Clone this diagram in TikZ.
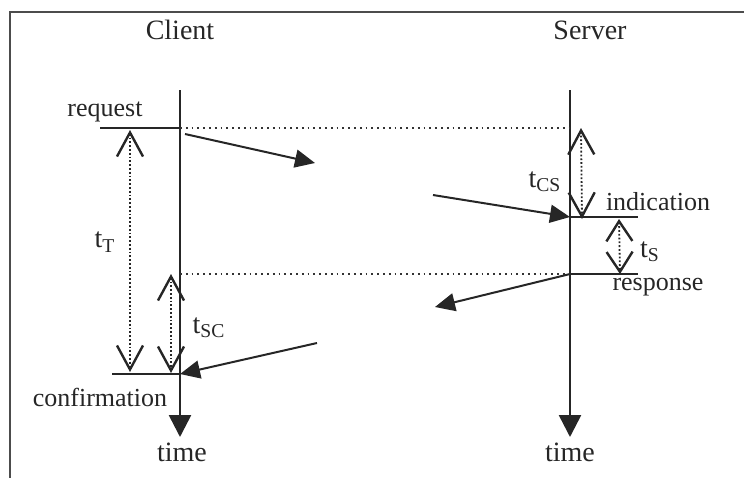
\documentclass[tikz,border=0pt]{standalone}
\usepackage{fontspec}
\setmainfont{Liberation Serif}
\usetikzlibrary{arrows.meta, positioning}
\tikzset{
        x=0.5pt, y=-0.5pt, % one unit is one pixel of the sketch, y runs down
        timeaxis/.style={draw=black!85, line width=1.3pt, -{Triangle[length=11pt,width=11pt]}}, % time line of a party
        msg/.style={draw=black!85, line width=1pt, -{Triangle[length=10pt,width=9pt]}}, % message on the way
        eventline/.style={draw=black!85, line width=1pt}, % level of a primitive
        sync/.style={draw=black!80, line width=0.9pt, dotted}, % same instant
        timer/.style={draw=black!85, line width=0.9pt, densely dotted,
            {Straight Barb[length=#1,width=13pt,line width=1.2pt]}-{Straight Barb[length=#1,width=13pt,line width=1.2pt]}}, % duration
        timer/.default=12pt,
    }
\tikzstyle{head}=[font=\fontsize{14}{16}\selectfont, text=black!85, inner sep=0pt]
\tikzstyle{lbl}=[font=\fontsize{13}{15}\selectfont, text=black!85, inner sep=0pt]

\begin{document}
\begin{tikzpicture}
    \useasboundingbox (0,0) rectangle (744,478);
    \draw[black!70, line width=0.8pt] (744,12) -- (10,12) -- (10,478);

    % parties
    \node[head] (client) at (180,30) {Client};
    \node[head] (server) at (590,30) {Server};
    \node[head] (ctime) at (182,452) {time};
    \node[head] (stime) at (570,452) {time};
    \coordinate (c0) at (180,90);
    \coordinate (c1) at (180,437);
    \coordinate (s0) at (570,90);
    \coordinate (s1) at (570,437);
    \draw[timeaxis] (c0) -- (c1);
    \draw[timeaxis] (s0) -- (s1);

    % events
    \coordinate (req) at (180,128);
    \coordinate (reqL) at (100,128);
    \coordinate (reqS) at (570,128);
    \coordinate (ind) at (570,217);
    \coordinate (indR) at (638,217);
    \coordinate (resp) at (570,274);
    \coordinate (respR) at (638,274);
    \coordinate (respC) at (180,274);
    \coordinate (cnf) at (180,374);
    \coordinate (cnfL) at (112,374);
    \draw[eventline] (reqL) -- (req);
    \draw[eventline] (ind) -- (indR);
    \draw[eventline] (resp) -- (respR);
    \draw[eventline] (cnfL) -- (cnf);
    \draw[sync] (req) -- (reqS);
    \draw[sync] (respC) -- (resp);

    \node[lbl] (request) at (105,112) {request};
    \node[lbl] (indication) at (658,202) {indication};
    \node[lbl] (response) at (658,287) {response};
    \node[lbl] (confirmation) at (100,397) {confirmation};

    % messages
    \coordinate (m1a) at (185,134);
    \coordinate (m1b) at (315,163);
    \coordinate (m2a) at (433,195);
    \coordinate (m3b) at (435,307);
    \coordinate (m4a) at (317,343);
    \draw[msg] (m1a) -- (m1b);
    \draw[msg] (m2a) -- (ind);
    \draw[msg] (resp) -- (m3b);
    \draw[msg] (m4a) -- (cnf);

    % durations
    \coordinate (tT0) at (130,130);
    \coordinate (tT1) at (130,372);
    \coordinate (tSC0) at (171,274);
    \coordinate (tSC1) at (171,373);
    \coordinate (tCS0) at (581,128);
    \coordinate (tCS1) at (582,219);
    \coordinate (tS0) at (619,219);
    \coordinate (tS1) at (620,274);
    \draw[timer] (tT0) -- (tT1);
    \draw[timer] (tSC0) -- (tSC1);
    \draw[timer] (tCS0) -- (tCS1);
    \draw[timer=10pt] (tS0) -- (tS1);

    \node[head] (tT) at (105,242) {t\textsubscript{T}};
    \node[head] (tSC) at (209,328) {t\textsubscript{SC}};
    \node[head] (tCS) at (545,182) {t\textsubscript{CS}};
    \node[head] (tS) at (650,252) {t\textsubscript{S}};
\end{tikzpicture}
\end{document}
